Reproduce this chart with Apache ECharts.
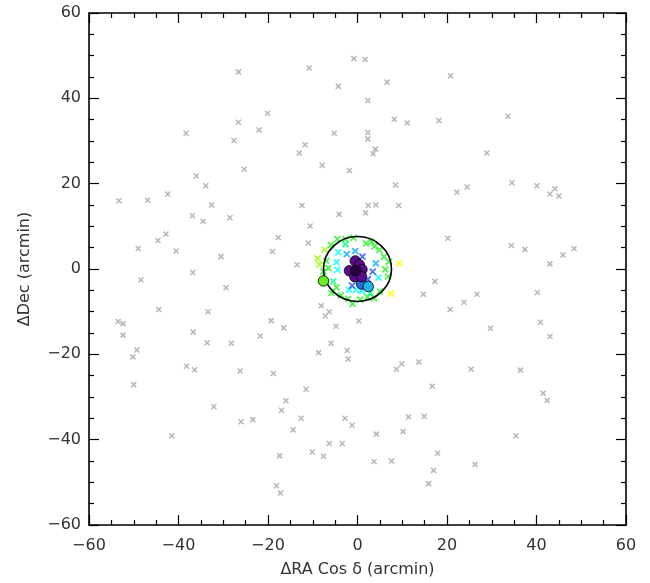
<!DOCTYPE html>
<html><head><meta charset="utf-8">
<script src="https://cdn.jsdelivr.net/npm/echarts@6/dist/echarts.min.js"></script>
<style>html,body{margin:0;padding:0;background:#fff}#c{width:650px;height:583px}</style>
</head><body><div id="c"></div>
<script>
// axis ticks
const xTicks = [-60, -40, -20, 0, 20, 40, 60];
const yTicks = [-60, -40, -20, 0, 20, 40, 60];
const xTitle = 'ΔRA Cos δ (arcmin)';
const yTitle = 'ΔDec (arcmin)';

// field sources (gray crosses) [ΔRA, ΔDec]
const fieldStars = [
[-26.6,46.2],[-10.8,47.1],[-0.8,49.3],[1.7,49.1],[-4.3,42.8],[2.3,39.5],[-20.1,36.5],[-26.6,34.4],
[-38.3,31.8],[-22.0,32.6],[-27.6,30.1],[-5.2,31.8],[2.3,32.0],[2.3,30.5],[-11.7,29.1],[-13.0,27.2],
[-25.3,23.4],[-7.9,24.3],[-1.8,23.1],[-36.0,21.8],[-33.9,19.5],[-42.4,17.6],[-53.3,16.0],[-46.9,16.1],
[-32.6,15.0],[-12.4,14.9],[2.4,14.9],[4.1,15.0],[9.2,14.9],[20.8,45.3],[6.6,43.8],[8.2,35.1],
[11.1,34.2],[18.2,34.8],[33.6,35.8],[4.0,28.1],[3.5,27.0],[28.9,27.2],[8.5,19.7],[22.2,18.0],
[24.5,19.2],[34.5,20.2],[40.1,19.5],[43.0,17.6],[44.1,18.8],[45.0,17.1],[-4.1,12.8],[1.8,13.2],
[-36.9,12.5],[-34.5,11.2],[-28.5,12.0],[-42.8,8.2],[-44.6,6.7],[-17.7,7.4],[-49.0,4.8],[-40.5,4.2],
[-19.0,4.1],[-30.5,2.9],[-36.8,-0.8],[-48.4,-2.5],[-29.4,-4.4],[-44.4,-9.5],[-33.4,-10.0],[-53.5,-12.3],
[-52.4,-12.8],[-19.3,-12.1],[-16.5,-13.8],[-52.4,-15.5],[-36.7,-14.8],[-21.7,-15.7],[-33.6,-17.3],[-28.2,-17.4],
[-49.3,-19.0],[-50.2,-20.6],[-38.2,-22.8],[-36.4,-23.6],[-26.2,-23.9],[-18.8,-24.5],[-50.0,-27.1],
[-10.6,10.1],[-11.0,6.1],[-13.5,1.0],[-8.1,-8.6],[-6.3,-10.0],[-7.2,-11.0],[0.3,-12.2],[-4.8,-13.4],
[-8.7,-19.6],[-5.9,-17.4],[-2.3,-19.1],[-2.1,-21.1],[-11.5,-28.2],[-16.0,-30.9],[-17.0,-33.1],[-32.1,-32.3],
[-26.0,-35.8],[-23.4,-35.3],[-12.6,-35.0],[-2.8,-35.0],[-1.2,-36.6],[-14.4,-37.7],[-41.5,-39.1],[-6.3,-40.9],
[-3.4,-40.9],[-10.1,-42.9],[-7.6,-43.9],[-17.4,-43.8],[-18.1,-50.8],[-17.2,-52.5],
[29.7,-13.9],[43.0,-15.8],[8.7,-23.5],[9.9,-22.2],[13.7,-21.8],[25.4,-23.5],[36.4,-23.7],[16.7,-27.5],
[41.5,-29.1],[42.4,-30.8],[11.4,-34.7],[14.9,-34.5],[4.2,-38.7],[10.2,-38.1],[35.4,-39.1],[3.7,-45.1],
[7.6,-45.0],[17.9,-43.2],[17.0,-47.2],[26.3,-45.8],[15.9,-50.3],
[20.2,7.2],[34.4,5.5],[37.4,4.6],[43.0,1.2],[45.9,3.3],[48.4,4.8],[17.3,-2.9],[14.7,-5.9],
[26.7,-5.9],[23.8,-7.8],[20.7,-9.5],[40.2,-5.5],[40.9,-12.5]
];

// cluster members (coloured crosses), grouped by colour class
const membersYellow = [[9.3,1.3],[7.5,-5.8]];
const membersLime = [[-8.9,2.5],[-8.5,1.0],[-7.3,4.5]];
const membersGreen = [[-4.5,7.0],[-2.7,7.0],[-0.9,7.3],[-5.9,5.6],[1.9,6.0],[3.1,6.4],[3.8,5.3],[4.9,4.5],
  [5.9,2.9],[-7.0,1.9],[7.0,1.7],[-6.5,0.2],[6.2,-0.1],[-7.6,-0.6],[6.8,-1.8],[-4.7,-4.3],[5.0,-5.3],
  [-5.8,-5.6],[-3.7,-6.2],[-2.1,-7.0],[0.6,-7.2],[2.2,-6.6],[3.7,-6.8],[-1.1,-8.2]];
const membersSpring = [[-2.7,5.8],[-5.4,-2.9],[2.9,-5.6]];
const membersCyan = [[-4.3,3.9],[-4.7,1.6],[4.7,-2.0],[-1.9,-4.9],[-0.3,-4.9],[1.0,-5.1],[-4.5,-0.2]];
const membersSky = [[-2.4,3.5],[4.1,1.3],[-0.5,4.2]];
const membersBlue = [[1.1,2.9],[3.4,-0.6],[2.3,-2.4],[-1.2,-3.9]];

// bright objects (filled circles): [x, y]
const brightPurple = [[-0.5,1.9],[0.4,1.0],[-1.8,-0.4],[1.0,-0.1],[-0.6,-1.8],[0.9,-1.8]];
const brightCore = [[-0.4,-0.4]];
const brightBlue = [[0.9,-3.5]];
const brightCyan = [[2.4,-4.1]];
const brightGreen = [[-7.6,-2.8]];

// cluster radius circle [x0, y0, radius]
const clusterCircle = [[0, 0, 7.6]];

const X = 'path://M0,0L10,10M10,0L0,10';
function crosses(data, color, size, width, z) {
  return { type: 'scatter', data: data, symbol: X, symbolSize: size, z: z,
    itemStyle: { color: 'rgba(0,0,0,0)', borderColor: color, borderWidth: width },
    emphasis: { disabled: true }, silent: true };
}
function dots(data, color, z) {
  return { type: 'scatter', data: data, symbol: 'circle', symbolSize: 10.5, z: z,
    itemStyle: { color: color, borderColor: '#000', borderWidth: 0.8, opacity: 1 },
    emphasis: { disabled: true }, silent: true };
}
const fmt = v => (v < 0 ? '\u2212' + Math.abs(v) : String(v));
const font = "'DejaVu Sans', sans-serif";
function xAx(pos, show) {
  return { type: 'value', min: xTicks[0], max: xTicks[xTicks.length - 1], interval: 20, position: pos,
    name: show ? xTitle : '', nameLocation: 'middle', nameGap: 37,
    nameTextStyle: { fontFamily: font, fontSize: 16, color: '#333' },
    axisLine: { show: true, onZero: false, lineStyle: { color: '#000', width: 1.6 } },
    axisTick: { show: true, inside: true, length: 10, lineStyle: { color: '#000', width: 1.2 } },
    minorTick: { show: true, splitNumber: 4, length: 5, lineStyle: { color: '#000', width: 1.2 } },
    axisLabel: { show: show, formatter: fmt, fontFamily: font, fontSize: 16, color: '#333', margin: 13 },
    splitLine: { show: false } };
}
function yAx(pos, show) {
  return { type: 'value', min: yTicks[0], max: yTicks[yTicks.length - 1], interval: 20, position: pos,
    name: show ? yTitle : '', nameLocation: 'middle', nameGap: 56, nameRotate: 90,
    nameTextStyle: { fontFamily: font, fontSize: 16, color: '#333' },
    axisLine: { show: true, onZero: false, lineStyle: { color: '#000', width: 1.6 } },
    axisTick: { show: true, inside: true, length: 10, lineStyle: { color: '#000', width: 1.2 } },
    minorTick: { show: true, splitNumber: 4, length: 5, lineStyle: { color: '#000', width: 1.2 } },
    axisLabel: { show: show, formatter: fmt, fontFamily: font, fontSize: 16, color: '#333', margin: 8 },
    splitLine: { show: false } };
}

const chart = echarts.init(document.getElementById('c'), null, { renderer: 'canvas' });
chart.setOption({
  animation: false,
  backgroundColor: '#fff',
  grid: { left: 89, right: 24, top: 13, bottom: 54 },
  xAxis: [xAx('bottom', true), xAx('top', false)],
  yAxis: [yAx('left', true), yAx('right', false)],
  series: [
    crosses(fieldStars, '#a4a4a4', 5, 1.5, 2),
    crosses(membersGreen, '#22f522', 6, 1.8, 3),
    crosses(membersLime, '#99ff00', 6, 1.8, 3),
    crosses(membersYellow, '#ffff00', 6, 1.8, 3),
    crosses(membersSpring, '#00ff88', 6, 1.8, 3),
    crosses(membersCyan, '#00ffff', 6, 1.8, 3),
    crosses(membersSky, '#00a8ff', 6, 1.8, 3),
    crosses(membersBlue, '#2050ff', 6, 1.8, 3),
    { type: 'custom', data: clusterCircle, z: 4, silent: true,
      renderItem: function (params, api) {
        const c = api.coord([api.value(0), api.value(1)]);
        const s = api.size([api.value(2), api.value(2)]);
        return { type: 'ellipse', shape: { cx: c[0], cy: c[1], rx: s[0], ry: s[1] },
          style: { fill: null, stroke: '#000', lineWidth: 1.6 } };
      } },
    dots(brightGreen, '#66ee22', 5),
    dots(brightBlue, '#2070e0', 5),
    dots(brightCyan, '#20b4ea', 5),
    dots(brightPurple, '#5a0a8c', 6),
    dots(brightCore, '#2a0040', 7)
  ]
});
</script></body></html>
